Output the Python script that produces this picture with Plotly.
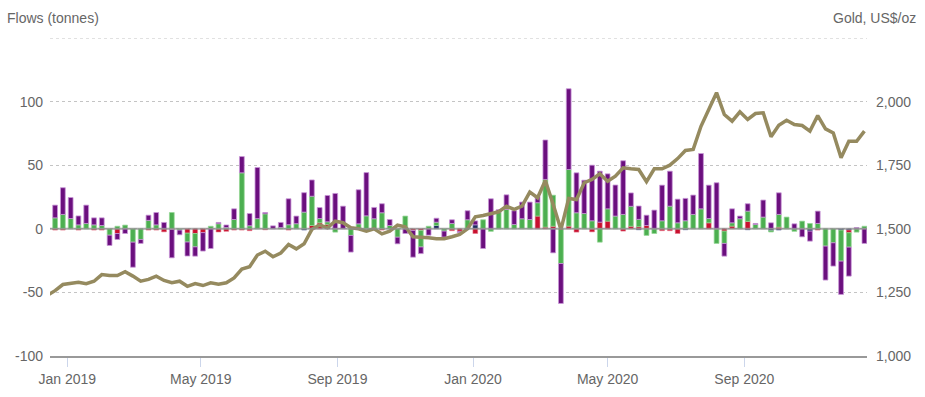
import pandas as pd
import plotly.graph_objects as go

# ---- data (tonnes per week, by region) ----
week_start = "2018-12-21"
n_weeks = 105

north_america = [
    10, 21, 16.5, 7, 14.4, 5.5, 6, -8.1, -4.7, -3.7,
    -19.7, -3.1, 4.1, 9.7, 5, -22.3, -3.7, -11, -7.3, -14.5,
    -15.5, 1, 2, 8.4, 12.8, 9.6, 40.2, 1, 2.3, 4,
    20.4, 6, 15.3, 12.8, 8.6, 20.7, 27.8, 17.8, -13.1, 26.8,
    34, 8.9, 7.1, 4.7, -5.2, -3.7, -21, -5.2, -5, 3.1,
    -4.7, 2.9, -1, 7.1, 3.1, -15.5, 23.6, 2, 11.5, 10.8,
    13.1, 13.7, 5, 31, -18.9, -31.4, 63.5, 31.4, 26.2, 43.7,
    40.1, 27.5, 24.4, 42.2, 10.5, 10.5, 8.1, 14.7, 28, 27.5,
    18.6, 17.6, 15.2, 43.5, 26.2, 36.2, -10, 11, 2.1, 5.8,
    0.8, 13.4, 4.7, 17, 0, 3.9, -6.3, -7.9, 9.7, -26.7,
    -18.3, -26.2, -22.8, 1, -11.5]

europe = [
    8.6, 11.3, 8.1, 3.1, 4.2, 3.1, 2.6, -5, 2, 2.9,
    -10.5, -8.4, 6.6, 3.1, 0, 12.8, -1, -7, -10.5, 0,
    2, 4, 1, 7.3, 44, 2.4, 8, 11.8, 0, 1,
    3.2, 4, 13.1, 23, 3.4, 2, -2.6, 0, -5.2, 3.9,
    10.2, 7.9, 12.6, 2.6, -6.6, 10, 0, -13, 2, 2.6,
    -1.8, 4.2, 0, 7.1, 0, 7.1, -2, 13, 15.2, 3.4,
    7.9, 7.3, 10.5, 37.5, 24.4, -27.3, 44.5, 12.6, 12, 6.3,
    -10.5, 9.7, 10, 11.3, 15.7, 5.8, -5.2, -3.7, 6.3, 17.8,
    4.7, 6.3, 11.3, 15.7, 3.4, -11.5, -9.7, 2.6, 7.9, 8.1,
    3.4, 9.2, -1, 10, 9.2, -2, 6, 4.2, 4.2, -13.6,
    -11, -24.4, -11.3, -2.6, 2]

asia = [
    -1, -1, 0, -1, 0, -1, -1, 0, -3.7, 0,
    0, 0, -1, -1, -2.4, -0.5, 0, -3.4, -3.7, -3,
    0, -2.5, -2, -1, -1, -1.5, 0, -0.8, 0, 0,
    -1, 0, 0, 2.6, 4.7, 2, 0, 0, 0, 0,
    0, 0, -1, 0, 0, 0, -1.3, -1.3, 0, 0,
    0, -1.5, -2, 0, -3.7, 0, 0, 0, 0, 0,
    0, 0, 10, 1.3, 2, 0, 2.1, -2.6, 0, -2.4,
    5.2, 6, 0, -1.8, 2, 1.6, 2.6, 0, -1.5, -1.5,
    -3.7, 0, 0, 0, 4.7, 0, -1.8, 2.1, 0, 5.8,
    0, 0, 0, 1.3, 0, 0, 0, 0, -1, 0,
    0, 0, -2.1, 0, 0]

other = [
    0, 0, 0, 0, 0, 0, 0, 0, 0, 0,
    0, 0, 0, 0, 0, 0, 0, 0, 0, 0,
    0, 0, 0, 0, 0, 0, 0, 0, 0, 0,
    0, 0, -1, 0, 0, 1.5, 0, 0, 0, 0,
    0, 0, 0, 0, 0, 0, 0, 0, 0, 2.6,
    0, 0, 0, 0, 3.1, 0, 0, 0, 0, 0,
    0, 0, 0, 0, 0, 0, 0, 0, 0, 0,
    0, 0, 0, 0, 0, -0.8, 0, 0, 0, 0,
    0, -0.8, 0, 0, 0, 0, 0, 0, 0, -0.8,
    0, 0, -1.5, -1, 0, 0, 0, -1.8, 0, 0,
    0, -1, -1, 0, 0]

# ---- gold price (US$/oz), weekly ----
gold_start = "2018-12-14"
gold = [
    1238, 1257, 1281, 1284, 1290, 1284, 1294, 1320, 1316, 1316,
    1331, 1314, 1294, 1301, 1314, 1297, 1288, 1294, 1274, 1285,
    1277, 1288, 1282, 1288, 1307, 1342, 1351, 1397, 1412, 1390,
    1405, 1438, 1421, 1441, 1498, 1515, 1504, 1530, 1524, 1504,
    1500, 1491, 1500, 1480, 1491, 1514, 1508, 1469, 1468, 1465,
    1461, 1461, 1469, 1478, 1500, 1547, 1552, 1560, 1567, 1589,
    1576, 1589, 1644, 1622, 1690, 1596, 1497, 1619, 1615, 1681,
    1694, 1716, 1687, 1707, 1740, 1736, 1733, 1685, 1736, 1736,
    1750, 1776, 1808, 1812, 1903, 1969, 2035, 1949, 1923, 1960,
    1930, 1953, 1956, 1862, 1907, 1927, 1910, 1906, 1884, 1945,
    1893, 1877, 1779, 1844, 1844, 1884]

x_tick_dates = ["2019-01-01", "2019-05-01", "2019-09-01", "2020-01-01", "2020-05-01", "2020-09-01"]
x_tick_labels = ["Jan 2019", "May 2019", "Sep 2019", "Jan 2020", "May 2020", "Sep 2020"]
flow_ticks = [-100, -50, 0, 50, 100]
flow_labels = ["-100", "-50", "0", "50", "100"]
flow_top = 150
gold_ticks = [1000, 1250, 1500, 1750, 2000]
gold_labels = ["1,000", "1,250", "1,500", "1,750", "2,000"]

# ---- figure ----
bar_dates = pd.date_range(week_start, periods=n_weeks, freq="7D")
gold_dates = pd.date_range(gold_start, periods=len(gold), freq="7D")

FONT = "Liberation Sans, Arial, sans-serif"
GREY = "#666666"
FS = 14

series = [
    ("Other", other, "#1d2a5e", "rgba(120,130,180,0.55)"),
    ("Asia", asia, "#c8102e", "rgba(230,120,140,0.55)"),
    ("Europe", europe, "#4caf50", "rgba(150,215,150,0.75)"),
    ("North America", north_america, "#6b0f7e", "rgba(200,150,215,0.8)"),
]

fig = go.Figure()
bar_w = 4.3 * 24 * 3600 * 1000
for name, vals, col, edge in series:
    fig.add_trace(go.Bar(
        x=bar_dates, y=[v if v != 0 else None for v in vals], name=name,
        width=bar_w, marker=dict(color=col, line=dict(color=edge, width=1)),
        yaxis="y",
    ))

fig.add_trace(go.Scatter(
    x=gold_dates, y=gold, name="Gold", mode="lines",
    line=dict(color="#958a5f", width=3.5), yaxis="y2",
))

fig.update_layout(
    width=925, height=397,
    margin=dict(l=50, r=58, t=38, b=41),
    barmode="relative",
    showlegend=False,
    plot_bgcolor="white", paper_bgcolor="white",
    font=dict(family=FONT, size=FS, color=GREY),
    xaxis=dict(
        type="date", automargin=False,
        range=["2018-12-16 10:00", "2020-12-20 08:00"],
        tickvals=x_tick_dates, ticktext=x_tick_labels,
        ticks="outside", ticklen=9, tickcolor="#ccd6eb", tickwidth=1,
        showgrid=False, showline=True, linecolor="#999999", linewidth=2,
        tickfont=dict(family=FONT, size=FS, color=GREY),
        zeroline=False,
    ),
    yaxis=dict(
        range=[-100, flow_top], automargin=False,
        tickvals=flow_ticks, ticktext=flow_labels,
        showgrid=True, gridcolor="#c4c4c4", griddash="dot", gridwidth=1,
        zeroline=False,
        ticks="", ticklabelstandoff=6,
        tickfont=dict(family=FONT, size=FS, color=GREY),
    ),
    yaxis2=dict(
        range=[1000, 2250], overlaying="y", side="right", automargin=False,
        tickvals=gold_ticks, ticktext=gold_labels,
        showgrid=False, zeroline=False, ticks="", ticklabelstandoff=8,
        tickfont=dict(family=FONT, size=FS, color=GREY),
    ),
    shapes=[
        dict(type="line", xref="paper", x0=0, x1=1, yref="y", y0=flow_top, y1=flow_top,
             line=dict(color="#c4c4c4", width=1, dash="dot"), layer="below"),
        dict(type="line", xref="paper", x0=0, x1=1, yref="y", y0=0, y1=0,
             line=dict(color="rgba(140,140,140,0.75)", width=2), layer="above"),
    ],
    annotations=[
        dict(text="Flows (tonnes)", xref="paper", yref="paper", x=0, y=1,
             xshift=-45, yshift=20, xanchor="left", yanchor="middle", showarrow=False,
             font=dict(family=FONT, size=FS, color=GREY)),
        dict(text="Gold, US$/oz", xref="paper", yref="paper", x=1, y=1,
             xshift=51, yshift=20, xanchor="right", yanchor="middle", showarrow=False,
             font=dict(family=FONT, size=FS, color=GREY)),
    ],
)

fig.write_html("out.html", config={"displayModeBar": False},
               post_script="document.body.style.margin='0';")
